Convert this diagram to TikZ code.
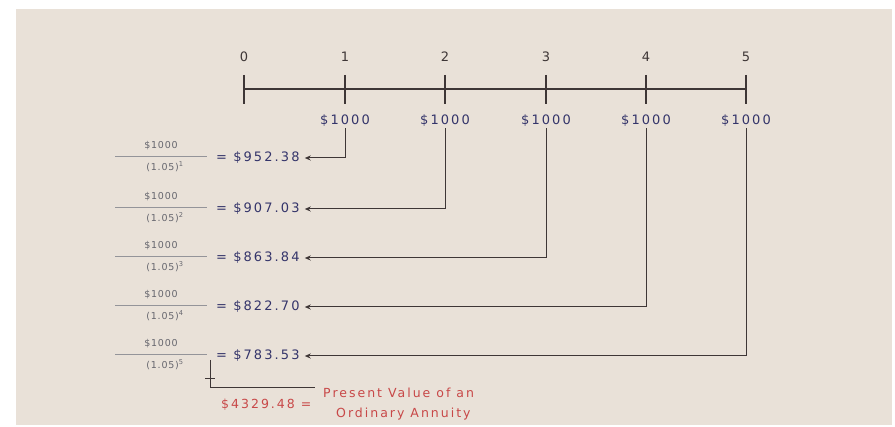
\documentclass[tikz,border=0pt]{standalone}
\usepackage{fontspec}
\setmainfont{DejaVu Sans}
\newfontfamily\spaced[LetterSpace=16]{DejaVu Sans}
\newfontfamily\spacedsmall[LetterSpace=8]{DejaVu Sans}
\usetikzlibrary{arrows.meta}
\definecolor{bgc}{HTML}{E9E1D8}
\definecolor{linec}{HTML}{3E3636}
\definecolor{numc}{HTML}{34346A}
\definecolor{fracc}{HTML}{66666E}
\definecolor{redc}{HTML}{C84848}
\tikzset{
  axis/.style={draw=linec, line width=2.6pt},
  tickmark/.style={draw=linec, line width=2.2pt},
  conn/.style={draw=linec, line width=1pt, -{Stealth[length=6pt,width=5pt]}},
  lbl/.style={font=\spaced\fontsize{13}{15}\selectfont, text=numc, inner sep=1pt},
  yearlbl/.style={font=\spaced\fontsize{13}{15}\selectfont, text=linec, inner sep=1pt},
  frac/.style={font=\spacedsmall\fontsize{9.5}{11}\selectfont, text=fracc, inner sep=0.5pt},
  redlbl/.style={font=\spaced\fontsize{12.5}{14}\selectfont, text=redc, inner sep=1pt, align=center},
  fracbar/.style={draw=fracc!70, line width=0.9pt},
}
\begin{document}
\begin{tikzpicture}[x=1pt,y=-1pt]
\useasboundingbox (0,0) rectangle (895,427);
\fill[bgc] (16,9) rectangle (892,425);
% timeline
\draw[axis] (244,89) -- (746,89);
\foreach \i/\x in {0/244,1/345,2/445,3/546,4/646,5/746}{
  \draw[tickmark] (\x,75) -- (\x,104);
  \node[yearlbl] (y\i) at (\x,57) {\i};
}
\foreach \i/\x in {1/345,2/445,3/546,4/646,5/746}{
  \node[lbl] (c\i) at (\x,121) {\$1000};
}
% rows
\foreach \i/\y/\v in {1/158/952.38,2/209/907.03,3/258/863.84,4/307/822.70,5/356/783.53}{
  \node[lbl, anchor=west] (v\i) at (215,\y) {= \$\v};
  \node[frac] (n\i) at (161,\y-12) {\$1000};
  \node[frac] (d\i) at (165,\y+9) {(1.05)\textsuperscript{\i}};
  \draw[fracbar] (115,\y-2) -- (207,\y-2);
}
\foreach \i in {1,...,5}{
  \coordinate (k\i) at (c\i.center |- v\i.east);
  \draw[conn] (c\i.south) -- (k\i) -- ([xshift=4pt]v\i.east);
}
% sum
\coordinate (p1) at (210,360);
\coordinate (p2) at (210,387);
\coordinate (s2) at (315,387);
\draw[linec, line width=0.9pt] (p1) -- (p2) -- (s2);
\draw[linec, line width=0.9pt] (205,378) -- (215,378);
\node[redlbl, anchor=west] (tot) at (220,405) {\$4329.48 =};
\node[redlbl, anchor=west] (pv1) at (322,393) {Present Value of an};
\node[redlbl, anchor=west] (pv2) at (335,414) {Ordinary Annuity};
\end{tikzpicture}
\end{document}
